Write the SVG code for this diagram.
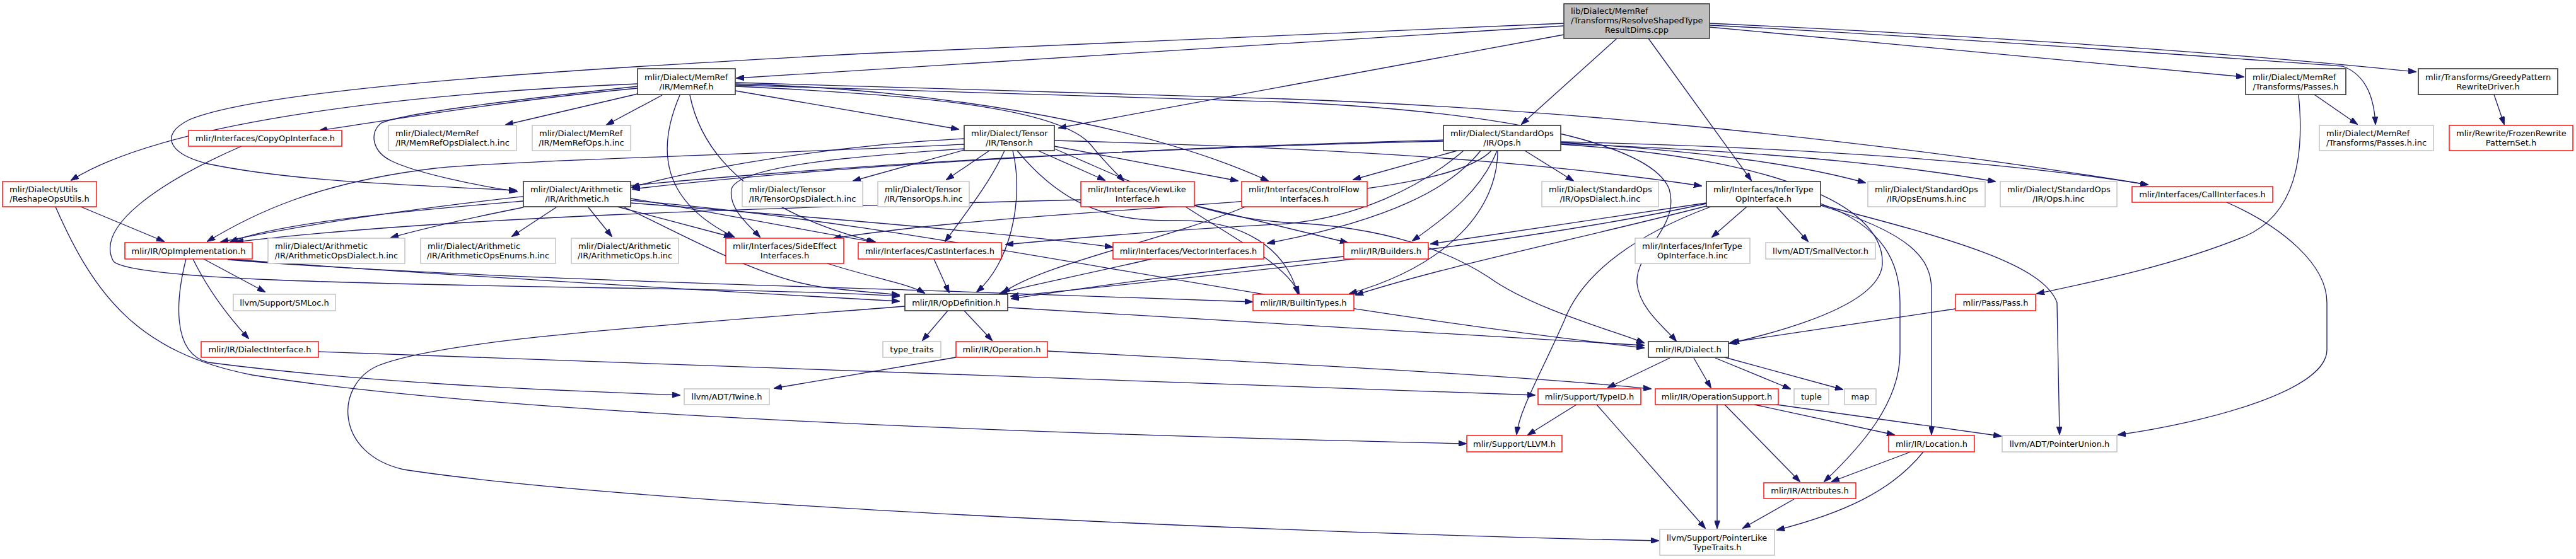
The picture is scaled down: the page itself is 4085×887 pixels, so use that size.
<svg xmlns="http://www.w3.org/2000/svg" width="4085" height="887" viewBox="0 0 4085 887">
<defs>
<style>
.t{font-family:"DejaVu Sans","Liberation Sans",sans-serif;font-size:13px;fill:#000}
.m{text-anchor:middle}
.nb{fill:#fff;stroke:#333;stroke-width:1.6}
.nr{fill:#fff;stroke:#ff0000;stroke-width:1.4}
.ng{fill:#fff;stroke:#bfbfbf;stroke-width:1.4}
.nroot{fill:#bfbfbf;stroke:#404040;stroke-width:1.6}
.e path{fill:none;stroke:#191970;stroke-width:1.3;marker-end:url(#ah)}
</style>
<marker id="ah" viewBox="0 0 13 9" markerWidth="13" markerHeight="9" markerUnits="userSpaceOnUse" refX="12" refY="4.5" orient="auto"><path d="M0,0 L13,4.5 L0,9 z" fill="#191970" stroke="#191970" stroke-width="1"/></marker>
</defs>
<rect width="4085" height="887" fill="#fff"/>
<g id="edges" class="e">
<path d="M2480,41 L1168,124"/>
<path d="M2480,37 L1370,85 C900,110 420,140 300,190 C250,215 270,245 330,260 C450,285 600,292 819,302"/>
<path d="M2480,55 L1679,203"/>
<path d="M2564,61 L2413,197"/>
<path d="M2614,61 L2777,286"/>
<path d="M2711,43 L3558,122"/>
<path d="M2711,37 C3100,55 3500,80 3831,114"/>
<path d="M2711,40 C3100,60 3500,90 3715,105 C3755,120 3765,160 3767,197"/>
<path d="M1011,133 C600,150 250,200 113,286"/>
<path d="M1011,137 C800,160 640,180 605,195 C585,210 590,240 620,255 C660,275 760,295 820,304"/>
<path d="M1011,140 C800,160 620,190 507,207"/>
<path d="M1011,149 L802,198"/>
<path d="M1050,151 L962,198"/>
<path d="M1078,151 C1040,240 1050,320 1164,376"/>
<path d="M1166,144 L1520,205"/>
<path d="M1166,137 C1450,150 1680,170 1730,230 C1750,255 1770,275 1782,287"/>
<path d="M1166,133 C1450,140 1800,190 2011,287"/>
<path d="M1166,131 L2040,157 C2400,170 2900,210 3406,293"/>
<path d="M1166,135 L2040,162 C2400,178 2620,230 2647,300 C2665,360 2592,400 2596,450 C2600,490 2640,520 2658,541"/>
<path d="M1094,151 C1120,280 1250,350 1388,384"/>
<path d="M1529,238 L1353,287"/>
<path d="M1569,239 L1501,285"/>
<path d="M1646,239 L1752,286"/>
<path d="M1529,220 C1300,232 1100,270 1002,297"/>
<path d="M1529,229 C1200,245 800,255 690,267 C500,290 400,340 329,383"/>
<path d="M1593,239 C1570,290 1530,340 1499,383"/>
<path d="M1606,239 C1625,320 1600,420 1549,463"/>
<path d="M1529,236 C1400,245 1170,260 1160,300 C1155,330 1185,355 1205,376"/>
<path d="M1672,232 L1963,287"/>
<path d="M1672,223 C2050,233 2400,250 2698,295"/>
<path d="M1672,236 C1800,290 1900,345 2040,353 C2200,360 2300,400 2361,440 C2430,490 2560,525 2607,544"/>
<path d="M1613,239 C1680,320 1750,350 1850,350 C1980,345 2040,400 2058,466"/>
<path d="M2418,239 L2495,287"/>
<path d="M2311,239 L2146,285"/>
<path d="M2374,239 C2350,300 2300,340 2240,382"/>
<path d="M2475,226 C2700,240 2850,260 2958,290"/>
<path d="M2475,228 C2800,240 3000,260 3164,288"/>
<path d="M2475,225 C2900,235 3200,260 3406,293"/>
<path d="M2289,222 C1800,235 1300,265 1003,300"/>
<path d="M2289,224 C1600,240 800,290 350,384"/>
<path d="M2321,239 C2250,300 2150,345 2040,355 C1850,365 1700,378 1595,388"/>
<path d="M2348,239 C2300,300 2200,350 2010,386"/>
<path d="M2365,239 C2280,330 1700,320 1322,378"/>
<path d="M2375,239 C2375,330 2300,420 2140,466"/>
<path d="M2475,229 C2800,250 2990,320 2985,420 C2980,480 2850,520 2742,545"/>
<path d="M830,319 C700,330 450,350 365,384"/>
<path d="M830,329 C750,345 680,360 620,377"/>
<path d="M882,329 L812,375"/>
<path d="M933,329 L970,375"/>
<path d="M979,328 L1160,376"/>
<path d="M988,328 C1080,370 1200,440 1300,455 C1350,462 1400,465 1426,468"/>
<path d="M1000,315 C1150,340 1300,370 1386,384"/>
<path d="M1000,322 C1300,345 1600,370 1764,392"/>
<path d="M1000,318 C1500,360 1900,470 2607,552"/>
<path d="M128,328 L260,383"/>
<path d="M88,328 C150,470 220,560 400,595 C800,660 1700,690 2325,704"/>
<path d="M383,232 C250,290 150,360 180,415 C230,460 1100,450 1426,470"/>
<path d="M361,411 C600,430 1100,460 1426,478"/>
<path d="M361,412 C700,440 1300,455 1500,462 C1700,470 1900,475 1986,479"/>
<path d="M323,411 L420,463"/>
<path d="M306,411 C330,460 360,500 394,537"/>
<path d="M295,411 C280,470 270,560 330,575 C600,610 900,620 1078,627"/>
<path d="M505,558 L2434,627"/>
<path d="M1503,493 L1463,540"/>
<path d="M1529,493 L1573,540"/>
<path d="M1598,488 L2607,548"/>
<path d="M1435,486 C1000,520 700,540 600,580 C530,610 530,720 640,745 C1000,800 2000,845 2630,858"/>
<path d="M1516,567 L1228,616"/>
<path d="M1661,557 C2000,575 2400,595 2618,617"/>
<path d="M2648,568 L2550,615"/>
<path d="M2686,568 L2713,615"/>
<path d="M2720,568 L2839,617"/>
<path d="M2735,567 L2922,618"/>
<path d="M3101,490 L2746,543"/>
<path d="M3645,150 C3655,250 3640,340 3560,375 C3450,420 3330,445 3230,466"/>
<path d="M3670,150 L3738,197"/>
<path d="M3955,150 L3971,197"/>
<path d="M2500,642 L2423,690"/>
<path d="M2532,642 L2704,838"/>
<path d="M2723,642 L2723,838"/>
<path d="M2735,642 L2854,764"/>
<path d="M2782,642 L3004,690"/>
<path d="M2817,642 L3173,692"/>
<path d="M3030,717 L2905,764"/>
<path d="M3050,717 C3000,780 2920,815 2818,841"/>
<path d="M2845,792 L2764,838"/>
<path d="M3531,321 C3620,360 3690,420 3690,480 L3690,555 C3690,620 3500,670 3359,690"/>
<path d="M2770,328 L2715,376"/>
<path d="M2817,328 L2867,383"/>
<path d="M2706,322 L2269,387"/>
<path d="M2887,323 C2990,360 3013,420 3013,480 L3013,560 C3013,640 2950,710 2893,764"/>
<path d="M2887,326 C3030,370 3063,410 3063,460 L3063,689"/>
<path d="M2887,325 C3100,380 3240,420 3262,480 L3266,689"/>
<path d="M2713,328 C2600,370 2510,430 2480,510 C2440,600 2410,650 2405,689"/>
<path d="M2706,323 C2400,390 1900,440 1603,470"/>
<path d="M2706,327 C2500,380 2300,420 2150,468"/>
<path d="M1714,317 C1200,330 700,345 374,384"/>
<path d="M1894,326 L2137,385"/>
<path d="M1880,328 C1960,380 2040,420 2060,466"/>
<path d="M1975,328 C1850,380 1650,420 1590,465"/>
<path d="M1481,411 L1505,464"/>
<path d="M1312,418 C1380,440 1440,450 1466,465"/>
<path d="M1826,411 C1700,440 1620,455 1585,466"/>
<path d="M2131,407 C1900,430 1700,460 1604,474"/>
</g>
<g id="n_root"><rect class="nroot" x="2480" y="6" width="231" height="55"/><text class="t" x="2491" y="22">lib/Dialect/MemRef</text><text class="t" x="2491" y="37">/Transforms/ResolveShapedType</text><text class="t m" x="2595.5" y="52">ResultDims.cpp</text></g>
<g id="n_memref"><rect class="nb" x="1011" y="109" width="155" height="41"/><text class="t" x="1022" y="126.5">mlir/Dialect/MemRef</text><text class="t m" x="1088.5" y="141.5">/IR/MemRef.h</text></g>
<g id="n_mrpasses"><rect class="nb" x="3561" y="109" width="159" height="41"/><text class="t" x="3572" y="126.5">mlir/Dialect/MemRef</text><text class="t m" x="3640.5" y="141.5">/Transforms/Passes.h</text></g>
<g id="n_greedy"><rect class="nb" x="3835" y="109" width="221" height="41"/><text class="t" x="3846" y="126.5">mlir/Transforms/GreedyPattern</text><text class="t m" x="3945.5" y="141.5">RewriteDriver.h</text></g>
<g id="n_copy"><rect class="nr" x="299" y="207" width="243" height="25"/><text class="t m" x="420.5" y="224">mlir/Interfaces/CopyOpInterface.h</text></g>
<g id="n_mrdialectinc"><rect class="ng" x="616" y="199" width="203" height="40"/><text class="t" x="627" y="216">mlir/Dialect/MemRef</text><text class="t m" x="717.5" y="231">/IR/MemRefOpsDialect.h.inc</text></g>
<g id="n_mropsinc"><rect class="ng" x="844" y="199" width="156" height="40"/><text class="t" x="855" y="216">mlir/Dialect/MemRef</text><text class="t m" x="922" y="231">/IR/MemRefOps.h.inc</text></g>
<g id="n_tensor"><rect class="nb" x="1529" y="199" width="143" height="40"/><text class="t" x="1540" y="216">mlir/Dialect/Tensor</text><text class="t m" x="1600.5" y="231">/IR/Tensor.h</text></g>
<g id="n_stdops"><rect class="nb" x="2289" y="199" width="186" height="40"/><text class="t" x="2300" y="216">mlir/Dialect/StandardOps</text><text class="t m" x="2382" y="231">/IR/Ops.h</text></g>
<g id="n_passesinc"><rect class="ng" x="3678" y="199" width="181" height="40"/><text class="t" x="3689" y="216">mlir/Dialect/MemRef</text><text class="t m" x="3768.5" y="231">/Transforms/Passes.h.inc</text></g>
<g id="n_frozen"><rect class="nr" x="3884" y="199" width="196" height="40"/><text class="t" x="3895" y="216">mlir/Rewrite/FrozenRewrite</text><text class="t m" x="3982" y="231">PatternSet.h</text></g>
<g id="n_reshape"><rect class="nr" x="4" y="288" width="149" height="40"/><text class="t" x="15" y="305">mlir/Dialect/Utils</text><text class="t m" x="78.5" y="320">/ReshapeOpsUtils.h</text></g>
<g id="n_arith"><rect class="nb" x="830" y="288" width="170" height="40"/><text class="t" x="841" y="305">mlir/Dialect/Arithmetic</text><text class="t m" x="915" y="320">/IR/Arithmetic.h</text></g>
<g id="n_tensordialectinc"><rect class="ng" x="1177" y="288" width="191" height="40"/><text class="t" x="1188" y="305">mlir/Dialect/Tensor</text><text class="t m" x="1272.5" y="320">/IR/TensorOpsDialect.h.inc</text></g>
<g id="n_tensoropsinc"><rect class="ng" x="1392" y="288" width="145" height="40"/><text class="t" x="1403" y="305">mlir/Dialect/Tensor</text><text class="t m" x="1464.5" y="320">/IR/TensorOps.h.inc</text></g>
<g id="n_viewlike"><rect class="nr" x="1714" y="288" width="180" height="40"/><text class="t" x="1725" y="305">mlir/Interfaces/ViewLike</text><text class="t m" x="1804" y="320">Interface.h</text></g>
<g id="n_controlflow"><rect class="nr" x="1969" y="288" width="199" height="40"/><text class="t" x="1980" y="305">mlir/Interfaces/ControlFlow</text><text class="t m" x="2068.5" y="320">Interfaces.h</text></g>
<g id="n_opsdialectinc"><rect class="ng" x="2445" y="288" width="185" height="40"/><text class="t" x="2456" y="305">mlir/Dialect/StandardOps</text><text class="t m" x="2537.5" y="320">/IR/OpsDialect.h.inc</text></g>
<g id="n_infertype"><rect class="nb" x="2706" y="288" width="181" height="40"/><text class="t" x="2717" y="305">mlir/Interfaces/InferType</text><text class="t m" x="2796.5" y="320">OpInterface.h</text></g>
<g id="n_opsenumsinc"><rect class="ng" x="2962" y="288" width="186" height="40"/><text class="t" x="2973" y="305">mlir/Dialect/StandardOps</text><text class="t m" x="3055" y="320">/IR/OpsEnums.h.inc</text></g>
<g id="n_opsinc"><rect class="ng" x="3172" y="288" width="185" height="40"/><text class="t" x="3183" y="305">mlir/Dialect/StandardOps</text><text class="t m" x="3264.5" y="320">/IR/Ops.h.inc</text></g>
<g id="n_call"><rect class="nr" x="3381" y="296" width="223" height="25"/><text class="t m" x="3492.5" y="313">mlir/Interfaces/CallInterfaces.h</text></g>
<g id="n_opimpl"><rect class="nr" x="198" y="385" width="202" height="26"/><text class="t m" x="299" y="402.5">mlir/IR/OpImplementation.h</text></g>
<g id="n_arithdialectinc"><rect class="ng" x="425" y="378" width="217" height="40"/><text class="t" x="436" y="395">mlir/Dialect/Arithmetic</text><text class="t m" x="533.5" y="410">/IR/ArithmeticOpsDialect.h.inc</text></g>
<g id="n_arithenumsinc"><rect class="ng" x="667" y="378" width="214" height="40"/><text class="t" x="678" y="395">mlir/Dialect/Arithmetic</text><text class="t m" x="774" y="410">/IR/ArithmeticOpsEnums.h.inc</text></g>
<g id="n_arithopsinc"><rect class="ng" x="906" y="378" width="170" height="40"/><text class="t" x="917" y="395">mlir/Dialect/Arithmetic</text><text class="t m" x="991" y="410">/IR/ArithmeticOps.h.inc</text></g>
<g id="n_sideeffect"><rect class="nr" x="1151" y="378" width="187" height="40"/><text class="t" x="1162" y="395">mlir/Interfaces/SideEffect</text><text class="t m" x="1244.5" y="410">Interfaces.h</text></g>
<g id="n_cast"><rect class="nr" x="1361" y="385" width="227" height="26"/><text class="t m" x="1474.5" y="402.5">mlir/Interfaces/CastInterfaces.h</text></g>
<g id="n_vector"><rect class="nr" x="1765" y="385" width="239" height="26"/><text class="t m" x="1884.5" y="402.5">mlir/Interfaces/VectorInterfaces.h</text></g>
<g id="n_builders"><rect class="nr" x="2131" y="385" width="134" height="26"/><text class="t m" x="2198" y="402.5">mlir/IR/Builders.h</text></g>
<g id="n_infertypeinc"><rect class="ng" x="2593" y="378" width="182" height="40"/><text class="t" x="2604" y="395">mlir/Interfaces/InferType</text><text class="t m" x="2684" y="410">OpInterface.h.inc</text></g>
<g id="n_smallvector"><rect class="ng" x="2800" y="385" width="174" height="26"/><text class="t m" x="2887" y="402.5">llvm/ADT/SmallVector.h</text></g>
<g id="n_smloc"><rect class="ng" x="370" y="467" width="162" height="26"/><text class="t m" x="451" y="484.5">llvm/Support/SMLoc.h</text></g>
<g id="n_opdef"><rect class="nb" x="1435" y="467" width="163" height="26"/><text class="t m" x="1516.5" y="484.5">mlir/IR/OpDefinition.h</text></g>
<g id="n_builtintypes"><rect class="nr" x="1987" y="467" width="160" height="26"/><text class="t m" x="2067" y="484.5">mlir/IR/BuiltinTypes.h</text></g>
<g id="n_pass"><rect class="nr" x="3101" y="467" width="127" height="26"/><text class="t m" x="3164.5" y="484.5">mlir/Pass/Pass.h</text></g>
<g id="n_dialectiface"><rect class="nr" x="319" y="542" width="186" height="25"/><text class="t m" x="412" y="559">mlir/IR/DialectInterface.h</text></g>
<g id="n_typetraits"><rect class="ng" x="1400" y="542" width="92" height="25"/><text class="t m" x="1446" y="559">type_traits</text></g>
<g id="n_operation"><rect class="nr" x="1516" y="542" width="145" height="25"/><text class="t m" x="1588.5" y="559">mlir/IR/Operation.h</text></g>
<g id="n_dialect"><rect class="nb" x="2614" y="542" width="127" height="25"/><text class="t m" x="2677.5" y="559">mlir/IR/Dialect.h</text></g>
<g id="n_twine"><rect class="ng" x="1085" y="617" width="135" height="25"/><text class="t m" x="1152.5" y="634">llvm/ADT/Twine.h</text></g>
<g id="n_typeid"><rect class="nr" x="2439" y="617" width="163" height="25"/><text class="t m" x="2520.5" y="634">mlir/Support/TypeID.h</text></g>
<g id="n_opsupport"><rect class="nr" x="2625" y="617" width="195" height="25"/><text class="t m" x="2722.5" y="634">mlir/IR/OperationSupport.h</text></g>
<g id="n_tuple"><rect class="ng" x="2845" y="617" width="55" height="25"/><text class="t m" x="2872.5" y="634">tuple</text></g>
<g id="n_map"><rect class="ng" x="2925" y="617" width="50" height="25"/><text class="t m" x="2950" y="634">map</text></g>
<g id="n_llvm"><rect class="nr" x="2326" y="691" width="151" height="26"/><text class="t m" x="2401.5" y="708.5">mlir/Support/LLVM.h</text></g>
<g id="n_location"><rect class="nr" x="2995" y="691" width="136" height="26"/><text class="t m" x="3063" y="708.5">mlir/IR/Location.h</text></g>
<g id="n_pointerunion"><rect class="ng" x="3175" y="691" width="182" height="26"/><text class="t m" x="3266" y="708.5">llvm/ADT/PointerUnion.h</text></g>
<g id="n_attributes"><rect class="nr" x="2797" y="766" width="146" height="25"/><text class="t m" x="2870" y="783">mlir/IR/Attributes.h</text></g>
<g id="n_pointerlike"><rect class="ng" x="2632" y="840" width="182" height="41"/><text class="t" x="2643" y="857.5">llvm/Support/PointerLike</text><text class="t m" x="2723" y="872.5">TypeTraits.h</text></g>
</svg>
